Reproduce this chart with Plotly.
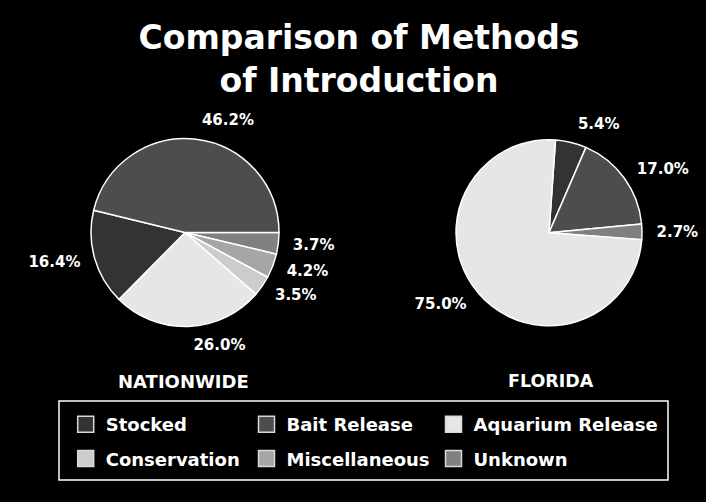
import plotly.graph_objects as go

categories = ["Stocked", "Bait Release", "Aquarium Release", "Conservation", "Miscellaneous", "Unknown"]
colors = ["#333333", "#4d4d4d", "#e6e6e6", "#cccccc", "#a6a6a6", "#808080"]

# Nationwide (slice order clockwise from 3 o'clock)
nat_labels = ["Unknown", "Miscellaneous", "Conservation", "Aquarium Release", "Stocked", "Bait Release"]
nat_values = [3.7, 4.2, 3.5, 26.0, 16.4, 46.2]

# Florida (slice order clockwise from 12 o'clock)
fl_labels = ["Stocked", "Bait Release", "Unknown", "Aquarium Release"]
fl_values = [5.4, 17.0, 2.7, 75.0]

color_map = dict(zip(categories, colors))
W, H = 706, 502
BOLD = dict(family="DejaVu Sans", weight="bold", color="white")


def dom(cx, cy, r):
    return dict(x=[(cx - r) / W, (cx + r) / W], y=[1 - (cy + r) / H, 1 - (cy - r) / H])


def add_pie(labels, values, rotation, cx, cy, r, label_gap):
    # the visible pie
    fig.add_trace(go.Pie(
        labels=labels, values=values, sort=False,
        direction="clockwise", rotation=rotation,
        marker=dict(colors=[color_map[c] for c in labels], line=dict(color="white", width=1.5)),
        textinfo="none", domain=dom(cx, cy, r),
        showlegend=False, hoverinfo="label+value",
    ))
    # transparent twin carrying the outside percentage labels a bit further out
    fig.add_trace(go.Pie(
        labels=labels, values=values, sort=False,
        direction="clockwise", rotation=rotation,
        marker=dict(colors=["rgba(0,0,0,0)"] * len(labels), line=dict(width=0)),
        texttemplate="%{value:.1f}%", textposition="outside",
        outsidetextfont=dict(size=15, **BOLD),
        domain=dom(cx, cy, r + label_gap),
        showlegend=False, hoverinfo="skip",
    ))


fig = go.Figure()
add_pie(nat_labels, nat_values, 90, 185, 232.5, 94, 10)
add_pie(fl_labels, fl_values, 4, 549, 232.7, 93, 10)

# legend entries: three columns
legend_cols = ["legend", "legend2", "legend3"]
for i, (cat, col) in enumerate(zip(categories, colors)):
    fig.add_trace(go.Scatter(
        x=[None], y=[None], mode="markers", name=cat,
        marker=dict(symbol="square", size=16, color=col, line=dict(color="#d9d9d9", width=1.5)),
        legend=legend_cols[i % 3], legendgroup=cat, showlegend=True,
    ))

leg_common = dict(
    orientation="v", yanchor="top", xanchor="left", bgcolor="rgba(0,0,0,0)",
    borderwidth=0, font=dict(size=18, **BOLD), tracegroupgap=8,
    y=1 - 406 / H,
)
fig.update_layout(
    legend=dict(x=(90.7 - 25) / W, **leg_common),
    legend2=dict(x=(271.5 - 25) / W, **leg_common),
    legend3=dict(x=(458.5 - 25) / W, **leg_common),
)

fig.add_shape(type="rect", xref="paper", yref="paper",
              x0=59 / W, x1=668 / W, y0=1 - 480 / H, y1=1 - 401 / H,
              line=dict(color="white", width=1.5))

fig.add_annotation(text="NATIONWIDE", x=183 / W, y=1 - 381 / H, xref="paper", yref="paper",
                   xanchor="center", yanchor="middle",
                   showarrow=False, font=dict(size=18, **BOLD))
fig.add_annotation(text="FLORIDA", x=551 / W, y=1 - 381 / H, xref="paper", yref="paper",
                   xanchor="center", yanchor="middle",
                   showarrow=False, font=dict(size=17.5, **BOLD))

fig.update_layout(
    width=W, height=H,
    margin=dict(l=0, r=0, t=0, b=0),
    paper_bgcolor="black", plot_bgcolor="black",
    title=dict(text="Comparison of Methods<br>of Introduction",
               x=359 / W, xanchor="center", y=1 - 49 / H, yanchor="top",
               font=dict(size=33, **BOLD)),
    xaxis=dict(visible=False), yaxis=dict(visible=False),
)

fig.write_html("out.html", config={"displayModeBar": False},
               post_script="document.body.style.margin='0';")
